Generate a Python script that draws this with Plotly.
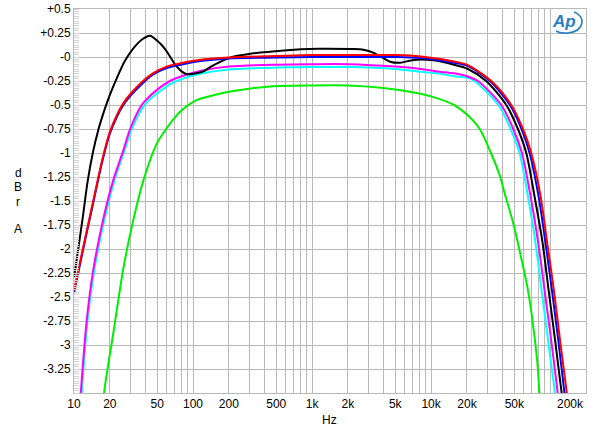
import plotly.graph_objects as go

# ---------------- data ----------------
RED_F = [10, 12, 14.5, 17.2, 20, 23, 26, 30, 38, 46, 60, 90, 120, 200, 500, 1000, 2000, 5000, 8200,
         15600, 20000, 32000, 47100, 59100, 69400, 83200, 94000, 108000, 121000, 137000, 145000]
RED_V = [-2.43, -1.97, -1.5, -1.08, -0.78, -0.6, -0.48, -0.38, -0.25, -0.17, -0.1, -0.05, -0.025,
         -0.005, 0.01, 0.02, 0.02, 0.02, 0.006, -0.046, -0.08, -0.25, -0.5, -0.75, -1.0, -1.455,
         -1.92, -2.45, -2.95, -3.47, -3.75]

BLUE_F = [10, 12, 14.5, 17.2, 20, 23, 26, 30, 38, 46, 60, 90, 120, 200, 500, 1000, 2000, 5000, 8200,
          15600, 20000, 31200, 45900, 57500, 67200, 80000, 91000, 104000, 117000, 131000, 140000]
BLUE_V = [-2.46, -1.99, -1.52, -1.1, -0.8, -0.62, -0.5, -0.4, -0.27, -0.185, -0.115, -0.065, -0.04,
          -0.015, -0.005, 0.0, 0.0, 0.0, -0.01, -0.06, -0.09, -0.25, -0.5, -0.75, -1.0, -1.455, -1.92,
          -2.45, -2.95, -3.47, -3.75]

BLACK_F = [10, 11, 12, 13, 14.5, 16, 17.5, 19, 21, 22.9, 26.8, 32, 38, 43.6, 50, 55, 60, 70.8, 80,
           88.9, 100, 122, 139, 169, 213, 303, 580, 1110, 2100, 2700, 3340, 3950, 4600, 5500, 7140,
           10500, 15600, 20000, 29000, 42800, 53600, 63000, 74000, 86000, 97500, 110000, 124000,
           133000]
BLACK_V = [-2.3, -1.95, -1.62, -1.3, -0.98, -0.76, -0.6, -0.47, -0.33, -0.22, -0.04, 0.1, 0.19, 0.222,
           0.17, 0.12, 0.06, -0.08, -0.15, -0.18, -0.175, -0.15, -0.105, -0.05, 0.0, 0.034, 0.069,
           0.086, 0.083, 0.076, 0.04, -0.01, -0.052, -0.06, -0.03, -0.035, -0.08, -0.12, -0.25, -0.5,
           -0.75, -1.0, -1.455, -1.92, -2.45, -2.95, -3.47, -3.75]

MAGENTA_F = [11.0, 11.4, 12.8, 14.5, 17.6, 21.4, 26, 29.6, 37, 40, 50, 64, 80, 120, 200, 500, 1000,
             2000, 5000, 8200, 11200, 15600, 20000, 24700, 38800, 49000, 57900, 68500, 79000, 90200,
             102000, 115000, 122000]
MAGENTA_V = [-3.8, -3.5, -2.74, -2.22, -1.69, -1.28, -0.97, -0.75, -0.5, -0.45, -0.34, -0.25, -0.2,
             -0.14, -0.1, -0.08, -0.075, -0.075, -0.1, -0.125, -0.15, -0.17, -0.2, -0.25, -0.5, -0.75,
             -1.0, -1.455, -1.92, -2.45, -2.95, -3.47, -3.75]

CYAN_F = [11.2, 11.6, 13.0, 14.8, 18.0, 21.9, 26.6, 30.3, 38, 41, 51, 65, 80, 120, 200, 500, 1000,
          2000, 5000, 8200, 11200, 15600, 20000, 23100, 36800, 46500, 55300, 65100, 75000, 85100,
          96000, 109000, 116000]
CYAN_V = [-3.8, -3.5, -2.74, -2.22, -1.69, -1.28, -0.97, -0.76, -0.52, -0.47, -0.37, -0.28, -0.23,
          -0.17, -0.13, -0.11, -0.105, -0.105, -0.125, -0.155, -0.17, -0.2, -0.215, -0.25, -0.5,
          -0.75, -1.0, -1.455, -1.92, -2.45, -2.95, -3.47, -3.75]

GREEN_F = [17.0, 17.9, 21.4, 26, 31.6, 38.4, 49.7, 56.5, 66.3, 78, 107, 158, 206, 447, 1000, 2000,
           3800, 7200, 10000, 15600, 20000, 25600, 31800, 38100, 40600, 48900, 56800, 64900, 71500,
           78500, 81000, 84000]
GREEN_V = [-3.9, -3.5, -2.875, -2.2, -1.69, -1.28, -0.9, -0.79, -0.67, -0.57, -0.45, -0.39, -0.36,
           -0.306, -0.296, -0.296, -0.32, -0.37, -0.41, -0.5, -0.6, -0.75, -1.0, -1.25, -1.38, -1.73,
           -2.08, -2.42, -2.77, -3.22, -3.48, -3.7]

X_LABELED = {10: "10", 20: "20", 50: "50", 100: "100", 200: "200", 500: "500", 1000: "1k",
             2000: "2k", 5000: "5k", 10000: "10k", 20000: "20k", 50000: "50k"}
Y_TICK_VALS = [0.5, 0.25, 0, -0.25, -0.5, -0.75, -1, -1.25, -1.5, -1.75, -2, -2.25, -2.5, -2.75,
               -3, -3.25]
Y_TICK_TEXT = ["+0.5", "+0.25", "-0", "-0.25", "-0.5", "-0.75", "-1", "-1.25", "-1.5", "-1.75", "-2",
               "-2.25", "-2.5", "-2.75", "-3", "-3.25"]

FONT = "Liberation Sans, Arial, sans-serif"
GRID = "#b9b9b9"

# grid positions: every 1..9 multiple per decade
xt_vals, xt_text = [], []
for dec in [10, 100, 1000, 10000, 100000]:
    for m in range(1, 10):
        v = dec * m
        if v > 200000:
            break
        xt_vals.append(v)
        xt_text.append(X_LABELED.get(v, ""))

fig = go.Figure()
series = [
    (GREEN_F, GREEN_V, "#00ee00"),
    (CYAN_F, CYAN_V, "#00ffff"),
    (MAGENTA_F, MAGENTA_V, "#ff00ff"),
    (BLACK_F, BLACK_V, "#000000"),
    (BLUE_F, BLUE_V, "#0000ff"),
    (RED_F, RED_V, "#ff0000"),
]
for fx, fy, col in series:
    fig.add_trace(go.Scatter(x=fx, y=fy, mode="lines",
                             line=dict(color=col, width=2, shape="spline", smoothing=0.8),
                             showlegend=False, hoverinfo="skip"))

fig.update_layout(
    width=600, height=435,
    margin=dict(l=74, r=14, t=9, b=42, autoexpand=False),
    paper_bgcolor="white", plot_bgcolor="white",
    font=dict(family=FONT, size=12, color="#000"),
)
fig.update_xaxes(
    type="log", range=[1, 5.30103], automargin=False,
    tickmode="array", tickvals=xt_vals, ticktext=xt_text,
    showgrid=True, gridcolor=GRID, gridwidth=1,
    showline=True, linecolor=GRID, mirror=True, zeroline=False,
    ticks="", tickfont=dict(family=FONT, size=12, color="#000"),
)
fig.update_yaxes(
    range=[-3.5, 0.5], automargin=False,
    tickmode="array", tickvals=Y_TICK_VALS, ticktext=Y_TICK_TEXT,
    showgrid=True, gridcolor=GRID, gridwidth=1,
    showline=True, linecolor=GRID, mirror=True, zeroline=False,
    ticks="", tickfont=dict(family=FONT, size=12, color="#000"),
    minor=dict(dtick=0.025, ticks="inside", ticklen=5, tickcolor="#d4d4d4", showgrid=False),
)

# 200k label (pulled inside like the original)
fig.add_annotation(x=5.30103, y=0, xref="x", yref="paper", text="200k", showarrow=False,
                   xanchor="right", yanchor="top", yshift=-2, xshift=0,
                   font=dict(family=FONT, size=12, color="#000"))
# axis titles
fig.add_annotation(x=(329 - 74) / 512, y=(393 - 420) / 384, xref="paper", yref="paper", text="Hz",
                   showarrow=False, xanchor="center", yanchor="middle",
                   font=dict(family=FONT, size=12, color="#000"))
for ch, py in [("d", 173), ("B", 187), ("r", 202), ("A", 229)]:
    fig.add_annotation(x=(18 - 74) / 512, y=(393 - py) / 384, xref="paper", yref="paper", text=ch,
                       showarrow=False, xanchor="center", yanchor="middle",
                       font=dict(family=FONT, size=12, color="#000"))

# Audio Precision logo
fig.add_annotation(x=(564 - 74) / 512, y=(393 - 22) / 384, xref="paper", yref="paper",
                   text="<b><i>Ap</i></b>", showarrow=False, xanchor="center", yanchor="middle",
                   font=dict(family=FONT, size=17, color="#2a7fc0"))
def px(x, y):
    return f"{(x - 74) / 512:.4f},{(393 - y) / 384:.4f}"
fig.add_shape(type="path", xref="paper", yref="paper",
              path=f"M {px(574, 12)} C {px(586, 16)} {px(585, 31)} {px(568, 33)} C {px(563, 33.5)} {px(559, 33)} {px(556, 31)}",
              line=dict(color="#2a7fc0", width=1.6))

fig.write_html("out.html")
